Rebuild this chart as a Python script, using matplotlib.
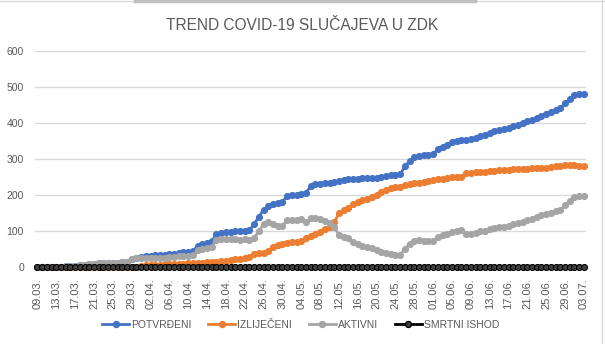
import numpy as np
import pandas as pd
import matplotlib
matplotlib.use("Agg")
import matplotlib.pyplot as plt
from matplotlib.lines import Line2D

# daily dates 09.03. - 03.07.
dates = pd.date_range("2020-03-09", "2020-07-03", freq="D")
labels = [d.strftime("%d.%m.") for d in dates]

potvrdjeni = [
    1, 1, 1, 2, 2, 2, 3, 3, 4, 5,
    6, 8, 10, 11, 12, 12, 13, 13, 14, 15,
    24, 26, 28, 30, 32, 33, 34, 35, 36, 37,
    40, 42, 43, 44, 60, 65, 68, 72, 92, 95,
    97, 98, 100, 101, 102, 103, 120, 140, 160, 170,
    175, 178, 182, 198, 200, 202, 204, 207, 225, 230,
    232, 233, 234, 236, 240, 243, 245, 246, 246, 247,
    247, 248, 248, 250, 254, 256, 257, 258, 280, 295,
    305, 310, 311, 312, 315, 328, 335, 340, 348, 352,
    354, 354, 355, 360, 365, 368, 372, 378, 382, 383,
    386, 392, 396, 400, 405, 410, 416, 420, 425, 430,
    436, 442, 455, 468, 478, 481, 481,
]

izlijeceni = [
    0, 0, 0, 0, 0, 0, 0, 0, 0, 0,
    0, 0, 0, 0, 0, 0, 0, 0, 0, 0,
    0, 0, 3, 5, 6, 7, 7, 8, 8, 9,
    10, 10, 11, 11, 12, 13, 14, 15, 16, 17,
    18, 20, 22, 24, 25, 28, 38, 40, 40, 45,
    55, 62, 66, 68, 70, 70, 72, 82, 88, 93,
    98, 105, 112, 125, 150, 158, 165, 175, 182, 186,
    190, 195, 200, 208, 214, 219, 222, 224, 228, 230,
    233, 235, 238, 240, 242, 244, 246, 248, 250, 250,
    251, 262, 263, 264, 265, 266, 267, 268, 269, 270,
    271, 272, 272, 273, 274, 275, 275, 275, 276, 278,
    280, 282, 283, 283, 283, 282, 282,
]

aktivni = [
    1, 1, 1, 2, 2, 2, 3, 3, 4, 5,
    6, 8, 10, 11, 12, 12, 13, 13, 14, 15,
    24, 26, 25, 25, 26, 26, 27, 27, 28, 28,
    30, 32, 32, 33, 48, 52, 54, 57, 76, 78,
    79, 78, 79, 77, 78, 75, 82, 100, 120, 125,
    120, 116, 116, 130, 130, 132, 135, 125, 137, 137,
    135, 128, 122, 111, 90, 85, 80, 71, 64, 60,
    57, 53, 48, 42, 40, 37, 35, 34, 52, 65,
    72, 75, 73, 72, 73, 84, 89, 92, 98, 102,
    103, 92, 92, 96, 100, 102, 105, 110, 113, 113,
    115, 120, 124, 127, 131, 135, 141, 145, 149, 152,
    156, 160, 172, 185, 195, 199, 199,
]

smrtni_ishod = [0] * len(labels)

series = [
    ("POTVRĐENI", potvrdjeni, "#4472C4", "#4472C4"),
    ("IZLIJEČENI", izlijeceni, "#ED7D31", "#ED7D31"),
    ("AKTIVNI", aktivni, "#A5A5A5", "#A5A5A5"),
    ("SMRTNI ISHOD", smrtni_ishod, "#000000", "#404040"),
]

plt.rcParams["font.family"] = ["Liberation Sans", "DejaVu Sans"]

fig = plt.figure(figsize=(6.05, 3.44), dpi=100)
ax = fig.add_axes([0.058, 0.223, 0.911, 0.628])

x = np.arange(len(labels))
for name, vals, col, face in series:
    ax.plot(x, vals, color=col, linewidth=2.0, marker="o", markersize=4.3,
            markerfacecolor=face, markeredgecolor=col, markeredgewidth=0.8,
            clip_on=False, zorder=3)

ax.set_xlim(-0.5, len(labels) - 0.5)
ax.set_ylim(0, 600)
ax.set_yticks(range(0, 601, 100))
ax.yaxis.grid(True, color="#D9D9D9", linewidth=1)
ax.set_axisbelow(True)
for s in ["top", "right", "left"]:
    ax.spines[s].set_visible(False)
ax.spines["bottom"].set_color("#D9D9D9")
ax.tick_params(axis="y", length=0, labelsize=7.5, labelcolor="#595959", pad=8)
ax.set_xticks(x[::4])
ax.set_xticklabels(labels[::4], rotation=90, fontsize=8, color="#595959")
ax.tick_params(axis="x", length=2, color="#BFBFBF", pad=6)

fig.text(0.5, 0.925, "TREND COVID-19 SLUČAJEVA U ZDK", ha="center", va="center",
         fontsize=11.2, color="#595959")

handles = [Line2D([], [], color=col, linewidth=2.0, marker="o", markersize=4.3,
                  markerfacecolor=face, markeredgecolor=col)
           for name, vals, col, face in series]
fig.legend(handles, [s[0] for s in series], loc="center", bbox_to_anchor=(0.497, 0.055),
           ncol=4, frameon=False, fontsize=7.5, handlelength=2.6, handletextpad=0.2,
           columnspacing=1.6, labelcolor="#595959")

# chart frame
fig.add_artist(Line2D([0, 1], [0.997, 0.997], color="#D9D9D9", linewidth=1))
fig.add_artist(Line2D([135 / 605, 475 / 605], [0.996, 0.996], color="#BFBFBF", linewidth=2.5))
fig.add_artist(Line2D([0.9945, 0.9945], [0, 1], color="#D9D9D9", linewidth=1))

fig.savefig("out.png", dpi=100)
